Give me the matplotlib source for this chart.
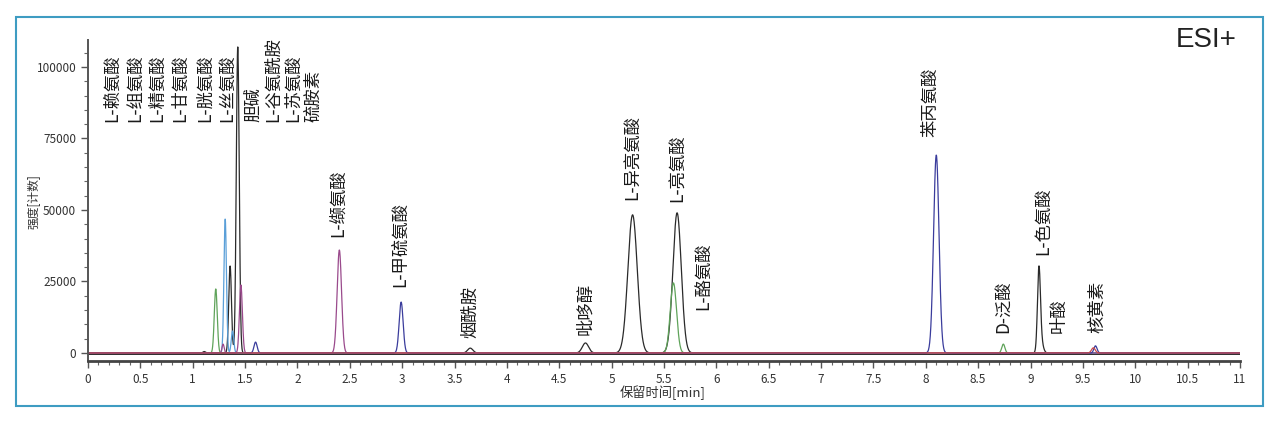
import matplotlib
matplotlib.use('Agg')
import matplotlib.pyplot as plt
from matplotlib.patches import Rectangle
import numpy as np

plt.rcParams['font.family'] = ['Noto Sans CJK SC', 'DejaVu Sans']

# peak tables: retention time [min], height [counts], sigma [min]
black_rt = [1.11, 1.357, 1.43, 3.65, 4.75, 5.20, 5.625, 9.08, 9.10]
black_h = [500, 30400, 107000, 1700, 3500, 48300, 49000, 28000, 4000]
black_w = [0.012, 0.013, 0.014, 0.025, 0.030, 0.045, 0.040, 0.014, 0.020]

green_rt = [1.22, 5.59, 8.74]
green_h = [22400, 24500, 3100]
green_w = [0.014, 0.030, 0.015]

lblue_rt = [1.31, 1.38]
lblue_h = [46900, 7700]
lblue_w = [0.012, 0.012]

navy_rt = [1.60, 2.99, 8.10, 9.62]
navy_h = [3800, 17800, 69200, 2500]
navy_w = [0.015, 0.019, 0.026, 0.015]

purple_rt = [1.29, 1.46, 2.40]
purple_h = [3100, 23800, 36000]
purple_w = [0.010, 0.014, 0.021]

red_rt = [9.60]
red_h = [1800]
red_w = [0.018]

# compound labels: name, x position [min], bottom of text [counts]
label_names = ['L-赖氨酸', 'L-组氨酸', 'L-精氨酸', 'L-甘氨酸', 'L-胱氨酸', 'L-丝氨酸',
               '胆碱', 'L-谷氨酰胺', 'L-苏氨酸', '硫胺素',
               'L-缬氨酸', 'L-甲硫氨酸', '烟酰胺', '吡哆醇', 'L-异亮氨酸', 'L-亮氨酸',
               'L-酪氨酸', '苯丙氨酸', 'D-泛酸', 'L-色氨酸', '叶酸', '核黄素']
label_x = [0.235, 0.452, 0.662, 0.882, 1.12, 1.33,
           1.577, 1.767, 1.958, 2.15,
           2.39, 2.98, 3.65, 4.75, 5.205, 5.635,
           5.87, 8.04, 8.74, 9.12, 9.27, 9.64]
label_y = [80800] * 10 + [40600, 23100, 5200, 6300, 53500, 52800,
                          15000, 75500, 7000, 34300, 7000, 7000]

xticks = [0, 0.5, 1, 1.5, 2, 2.5, 3, 3.5, 4, 4.5, 5, 5.5, 6, 6.5, 7, 7.5,
          8, 8.5, 9, 9.5, 10, 10.5, 11]
xtick_labels = ['0', '0.5', '1', '1.5', '2', '2.5', '3', '3.5', '4', '4.5', '5', '5.5',
                '6', '6.5', '7', '7.5', '8', '8.5', '9', '9.5', '10', '10.5', '11']
yticks = [0, 25000, 50000, 75000, 100000]
ytick_labels = ['0', '25000', '50000', '75000', '100000']

traces = [
    (black_rt, black_h, black_w, '#2a2a2a'),
    (green_rt, green_h, green_w, '#5fa35a'),
    (lblue_rt, lblue_h, lblue_w, '#5a9fd8'),
    (purple_rt, purple_h, purple_w, '#9a4a8c'),
    (navy_rt, navy_h, navy_w, '#3a3c9c'),
    (red_rt, red_h, red_w, '#c84848'),
]


def chromatogram(t, rts, hs, ws):
    y = np.zeros_like(t)
    for rt, h, w in zip(rts, hs, ws):
        y += h * np.exp(-0.5 * ((t - rt) / w) ** 2)
    return y


fig = plt.figure(figsize=(12.8, 4.26), dpi=100)
ax = fig.add_axes([0.06875, 0.1526, 0.9, 0.7534])

t = np.linspace(0, 11, 6000)
for rts, hs, ws, color in traces:
    ax.plot(t, chromatogram(t, rts, hs, ws), color=color, lw=0.9)
ax.axhline(0, color='#1a1a1a', lw=2.0, zorder=1)

for name, x, y in zip(label_names, label_x, label_y):
    ax.text(x, y, name, rotation=90, ha='center', va='bottom',
            fontsize=12.5, color='#1a1a1a')

fig.text(1237 / 1280, 1 - 27 / 426, 'ESI+', ha='right', va='top',
         fontsize=20, color='#222222', family=['Liberation Sans', 'DejaVu Sans'])

ax.set_xlim(0, 11)
ax.set_ylim(-2800, 109400)
ax.set_xticks(xticks)
ax.set_xticklabels(xtick_labels)
ax.set_xticks(np.arange(0, 11.01, 0.1), minor=True)
ax.set_yticks(yticks)
ax.set_yticklabels(ytick_labels)
ax.set_yticks(np.arange(0, 106000, 5000), minor=True)

for side in ['top', 'right']:
    ax.spines[side].set_visible(False)
ax.spines['left'].set_color('#555555')
ax.spines['left'].set_linewidth(1.4)
ax.spines['bottom'].set_color('#444444')
ax.spines['bottom'].set_linewidth(2.0)
ax.tick_params(which='major', length=5, width=1, color='#555555',
               labelsize=8.5, labelcolor='#333333')
ax.tick_params(which='minor', length=3, width=0.8, color='#666666')

fig.text(663 / 1280, 1 - 393 / 426, '保留时间[min]', ha='center', va='center',
         fontsize=9.5, color='#333333')
fig.text(34 / 1280, 1 - 202 / 426, '强度[计数]', ha='center', va='center',
         rotation=90, fontsize=8.5, color='#333333')

fig.patches.append(Rectangle((16 / 1280, 1 - 406 / 426), (1263 - 16) / 1280, 389 / 426,
                             transform=fig.transFigure, fill=False,
                             edgecolor='#3e9cc2', lw=1.5))

fig.savefig('out.png', dpi=100)
